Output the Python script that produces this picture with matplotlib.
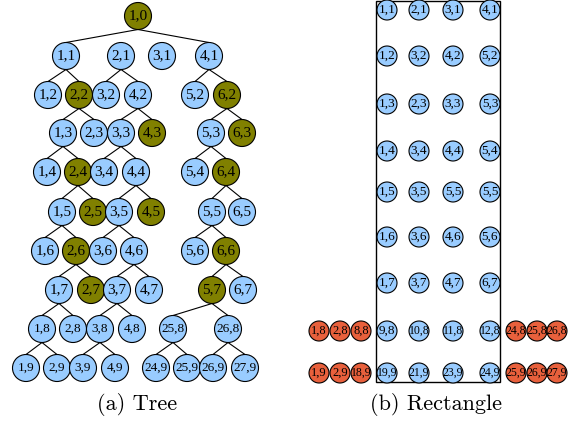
import matplotlib
matplotlib.use("Agg")
import matplotlib.pyplot as plt
from matplotlib.patches import Circle, Rectangle

W, H = 582, 425

BLUE = "#99ccff"
OLIVE = "#808000"
RED = "#e8603c"

# ---- (a) tree: one list of labels per level, with x and y layout ----
tree_levels = [
    ["1,0"],
    ["1,1", "2,1", "3,1", "4,1"],
    ["1,2", "2,2", "3,2", "4,2", "5,2", "6,2"],
    ["1,3", "2,3", "3,3", "4,3", "5,3", "6,3"],
    ["1,4", "2,4", "3,4", "4,4", "5,4", "6,4"],
    ["1,5", "2,5", "3,5", "4,5", "5,5", "6,5"],
    ["1,6", "2,6", "3,6", "4,6", "5,6", "6,6"],
    ["1,7", "2,7", "3,7", "4,7", "5,7", "6,7"],
    ["1,8", "2,8", "3,8", "4,8", "25,8", "26,8"],
    ["1,9", "2,9", "3,9", "4,9", "24,9", "25,9", "26,9", "27,9"],
]
tree_x = [
    [138],
    [66, 121, 162, 209],
    [48, 79, 106, 138, 195, 227],
    [63, 94, 121, 152, 211, 242],
    [47, 78, 104, 136, 195, 226],
    [62, 93, 119, 151, 212, 242],
    [45, 76, 103, 134, 195, 226],
    [59, 91, 117, 149, 212, 243],
    [42, 73, 100, 132, 173, 228],
    [26, 57, 83, 115, 156, 187, 213, 245],
]
tree_y = [16, 56, 95, 133, 172, 212, 251, 290, 329, 368]
tree_fs = [11] * 8 + [9.5, 9.5]

# nodes in the solution path
highlighted = {"1,0", "2,2", "6,2", "4,3", "6,3", "2,4", "6,4",
               "2,5", "4,5", "2,6", "6,6", "2,7", "5,7"}

# parent -> children
tree_edges = {
    "1,0": ["1,1", "4,1"],
    "1,1": ["1,2", "2,2"], "2,1": ["3,2", "4,2"], "4,1": ["5,2", "6,2"],
    "2,2": ["1,3", "2,3"], "4,2": ["3,3", "4,3"], "6,2": ["5,3", "6,3"],
    "1,3": ["1,4", "2,4"], "3,3": ["3,4", "4,4"], "5,3": ["5,4", "6,4"],
    "2,4": ["1,5", "2,5"], "4,4": ["3,5", "4,5"], "6,4": ["5,5", "6,5"],
    "1,5": ["1,6", "2,6"], "3,5": ["3,6", "4,6"], "5,5": ["5,6", "6,6"],
    "2,6": ["1,7", "2,7"], "4,6": ["3,7", "4,7"], "6,6": ["5,7", "6,7"],
    "1,7": ["1,8", "2,8"], "3,7": ["3,8", "4,8"], "5,7": ["25,8", "26,8"],
    "1,8": ["1,9", "2,9"], "3,8": ["3,9", "4,9"], "25,8": ["24,9", "25,9"],
    "26,8": ["26,9", "27,9"],
}

# ---- (b) rectangle: rows of labels inside and outside the box ----
rect_rows = [
    ["1,1", "2,1", "3,1", "4,1"],
    ["1,2", "3,2", "4,2", "5,2"],
    ["1,3", "2,3", "3,3", "5,3"],
    ["1,4", "3,4", "4,4", "5,4"],
    ["1,5", "3,5", "5,5", "5,5"],
    ["1,6", "3,6", "4,6", "5,6"],
    ["1,7", "3,7", "4,7", "6,7"],
    ["9,8", "10,8", "11,8", "12,8"],
    ["19,9", "21,9", "23,9", "24,9"],
]
rect_y = [10, 56, 104, 151, 192, 237, 283, 331, 373]
rect_cols = [387, 419, 453, 490]
left_out = {7: ["1,8", "2,8", "8,8"], 8: ["1,9", "2,9", "18,9"]}
right_out = {7: ["24,8", "25,8", "26,8"], 8: ["25,9", "26,9", "27,9"]}
left_cols = [319, 340, 361]
right_cols = [516, 537, 557]

fig = plt.figure(figsize=(W / 100, H / 100), dpi=100)
ax = fig.add_axes([0, 0, 1, 1])
ax.set_xlim(0, W)
ax.set_ylim(H, 0)
ax.set_aspect("equal")
ax.axis("off")

serif = ["Liberation Serif", "DejaVu Serif"]


def node(x, y, r, label, color, fs):
    ax.add_patch(Circle((x, y), r, facecolor=color, edgecolor="black",
                        linewidth=0.8, zorder=3))
    ax.text(x, y, label, ha="center", va="center", fontsize=fs,
            family=serif, zorder=4)


R_TREE = 13.5
pos = {}
for labels, xs, y, fs in zip(tree_levels, tree_x, tree_y, tree_fs):
    for lab, x in zip(labels, xs):
        pos[lab] = (x, y)
        node(x, y, R_TREE, lab, OLIVE if lab in highlighted else BLUE, fs)

for parent, kids in tree_edges.items():
    px, py = pos[parent]
    for k in kids:
        kx, ky = pos[k]
        ax.plot([px, kx], [py + R_TREE, ky - R_TREE], color="black",
                linewidth=0.8, zorder=2)

R_RECT = 10
for i, (labels, y) in enumerate(zip(rect_rows, rect_y)):
    for lab, x in zip(labels, rect_cols):
        fs = 9.5 if len(lab) <= 3 else 8.5
        node(x, y, R_RECT, lab, BLUE, fs)
    for lab, x in zip(left_out.get(i, []), left_cols):
        node(x, y, R_RECT, lab, RED, 9 if len(lab) <= 3 else 8.5)
    for lab, x in zip(right_out.get(i, []), right_cols):
        node(x, y, R_RECT, lab, RED, 8.5)

ax.add_patch(Rectangle((376, 1), 124, 381, fill=False, edgecolor="black",
                       linewidth=1.0, zorder=1))

cap = ["cmr10", "DejaVu Serif"]
ax.text(137, 405, "(a) Tree", ha="center", va="center", fontsize=16,
        family=cap)
ax.text(436, 405, "(b) Rectangle", ha="center", va="center", fontsize=16,
        family=cap)

fig.savefig("out.png", dpi=100)
